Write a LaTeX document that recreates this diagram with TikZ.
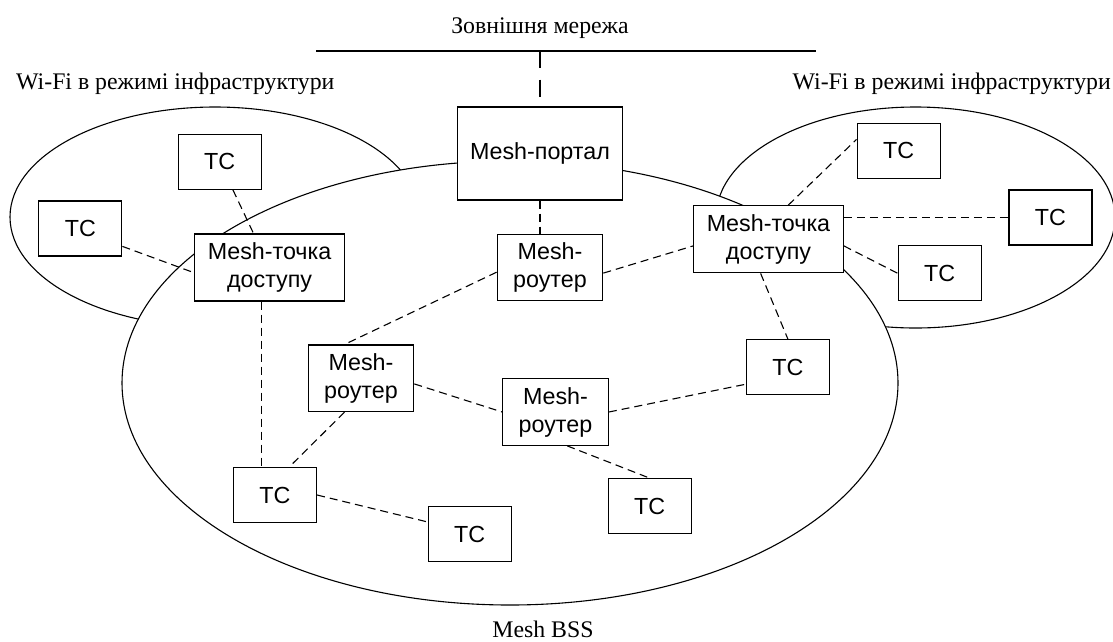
\documentclass[tikz,border=0pt]{standalone}
\usepackage{fontspec}
\setmainfont{Liberation Serif}
\newfontfamily\boxfont{Liberation Sans}
\usetikzlibrary{positioning}

\begin{document}
\begin{tikzpicture}[x=1pt, y=-1pt,
    every node/.style={inner sep=0pt},
    box/.style={draw, line width=1.2pt, fill=white, align=center,
                font=\boxfont\fontsize{23.3}{28}\selectfont},
    tc/.style={box, minimum width=83pt, minimum height=55pt},
    ap/.style={box, minimum width=149.5pt, minimum height=67pt},
    rt/.style={box, minimum width=105.5pt, minimum height=66.5pt},
    lbl/.style={font=\fontsize{23.8}{28}\selectfont},
    zone/.style={draw, line width=1.1pt},
    link/.style={draw, line width=1.1pt, dash pattern=on 8pt off 5pt},
  ]
    \useasboundingbox (0,0) rectangle (1113,641);
    \clip (0,0) rectangle (1113,641);

    \draw[zone] (215,217) ellipse [x radius=205, y radius=110];
    \draw[zone] (915.5,217.5) ellipse [x radius=199.5, y radius=110.5];
    \draw[zone, fill=white] (510,383) ellipse [x radius=388, y radius=222];

    \node[lbl, anchor=base] (ext) at (540,33.3) {Зовнішня мережа};
    \node[lbl, anchor=base west] (wifiL) at (16,89) {Wi-Fi в режимі інфраструктури};
    \node[lbl, anchor=base east] (wifiR) at (1111,89) {Wi-Fi в режимі інфраструктури};
    \node[lbl, anchor=base] (bss) at (543,637) {Mesh BSS};

    \coordinate (netL) at (316,51);
    \coordinate (netR) at (816,51);

    \node[box, minimum width=165.5pt, minimum height=93pt] (portal) at (540,153.5) {Mesh-портал};
    \node[ap] (apL) at (269.6,267.5) {Mesh-точка\\доступу};
    \node[ap] (apR) at (768.5,239.3) {Mesh-точка\\доступу};
    \node[rt] (rtT) at (550,267.5) {Mesh-\\роутер};
    \node[rt] (rtL) at (361,378.3) {Mesh-\\роутер};
    \node[rt] (rtC) at (555.5,412) {Mesh-\\роутер};
    \node[tc] (tcA) at (219.6,161.7) {ТС};
    \node[tc] (tcB) at (80.3,228.5) {ТС};
    \node[tc] (tcC) at (898.6,150.7) {ТС};
    \node[tc] (tcD) at (1050.5,217.5) {ТС};
    \node[tc] (tcE) at (939.6,273.2) {ТС};
    \node[tc] (tcF) at (275,495) {ТС};
    \node[tc] (tcG) at (469.6,534) {ТС};
    \node[tc] (tcH) at (787.9,367.2) {ТС};
    \node[tc] (tcI) at (649.6,506.2) {ТС};

    \draw[line width=2.2pt] (netL) -- (netR);
    \draw[line width=2.2pt, dash pattern=on 17pt off 11.5pt] (portal.north |- netL) -- (portal.north);
    \draw[link] (portal.south) -- (portal.south |- rtT.north);
    \draw[link] (tcA) -- (apL);
    \draw[link] (tcB.-23) -- (apL.184);
    \draw[link] ([xshift=-8pt]apL.south) -- ([xshift=-8pt]apL.south |- tcF.north);
    \draw[link] (rtT.-6) -- (apR.185);
    \draw[link] (rtT.185) -- (rtL.116);
    \draw[link] (rtL.-116) -- (tcF.63);
    \draw[link] (rtL.-6) -- (rtC.180);
    \draw[link] (tcF.east) -- (tcG.164);
    \draw[link] (rtC.east) -- (tcH.202);
    \draw[link] (rtC.-71) -- (tcI.north);
    \draw[link] (apR.-103) -- (tcH.north);
    \draw[link] (apR.60) -- (tcC.165);
    \draw[link] (tcD.west -| apR.east) -- (tcD.west);
    \draw[link] (apR.-5) -- (tcE.west);
\end{tikzpicture}
\end{document}
